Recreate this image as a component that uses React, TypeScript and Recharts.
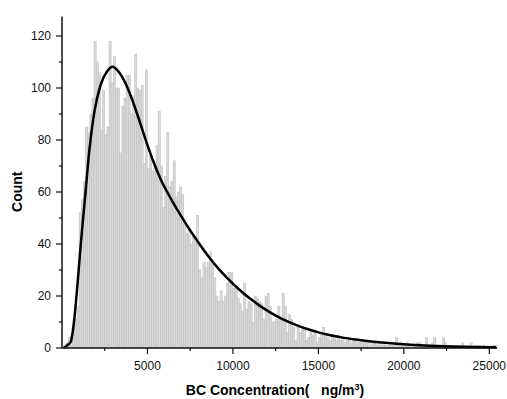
import { ComposedChart, Bar, Line, XAxis, YAxis, Label } from 'recharts'

const FONT = 'Arial, "Liberation Sans", sans-serif'

// histogram: 125 ng/m3 bins starting at 0
const binWidth = 125
const counts = [
  0, 0, 2, 4, 5, 8, 11, 16, 52, 57,
  64, 85, 83, 90, 96, 118, 110, 106, 84, 99,
  82, 85, 118, 102, 112, 100, 100, 75, 93, 96,
  105, 105, 90, 97, 113, 100, 99, 101, 71, 107,
  69, 74, 68, 70, 78, 91, 70, 54, 66, 83,
  62, 64, 72, 58, 60, 62, 59, 48, 44, 47,
  40, 43, 41, 51, 30, 27, 33, 31, 33, 37,
  32, 27, 20, 18, 22, 18, 20, 25, 29, 29,
  23, 23, 19, 17, 14, 25, 15, 18, 17, 10,
  20, 19, 18, 17, 11, 20, 21, 16, 10, 10,
  11, 16, 11, 21, 16, 6, 13, 11, 8, 3,
  8, 6, 7, 8, 3, 4, 6, 5, 7, 2,
  4, 5, 8, 5, 4, 3, 5, 4, 3, 5,
  3, 4, 2, 3, 4, 2, 3, 3, 2, 3,
  2, 3, 2, 2, 1, 2, 2, 1, 2, 1,
  2, 1, 1, 2, 1, 1, 4, 1, 2, 1,
  1, 2, 1, 0, 1, 1, 2, 2, 1, 1,
  4, 1, 1, 2, 4, 1, 1, 0, 4, 2,
  1, 1, 0, 1, 0, 1, 0, 2, 1, 0,
  1, 2, 0, 1, 1, 1, 0, 1, 0, 0,
  0, 0, 1, 1,
]

// fitted curve
const fitX = [
  100, 300, 520, 700, 900, 1100, 1350, 1600, 1900, 2250,
  2650, 2950, 3250, 3500, 3700, 4050, 4400, 4700, 5000, 5300,
  5800, 6400, 7000, 7400, 7950, 8550, 9100, 9700, 10300, 11000,
  11600, 12200, 12900, 13600, 14300, 14900, 15700, 16500, 17300, 18100,
  19600, 21200, 22800, 24000, 25400,
]
const fitY = [
  0, 1, 2.5, 10, 24, 40, 58, 76, 91, 101,
  106.5, 108.2, 106.8, 104.5, 102, 96.5, 90, 84, 78, 72.5,
  64.5, 57.1, 50.4, 46.2, 40.9, 35.4, 30.9, 26.7, 22.9, 19,
  16.1, 13.6, 11.1, 9.1, 7.4, 6.2, 4.9, 3.9, 3.15, 2.5,
  1.65, 1, 0.6, 0.42, 0.28,
]

const xTicks = [2500, 5000, 7500, 10000, 12500, 15000, 17500, 20000, 22500, 25000]
const yTicks = [0, 10, 20, 30, 40, 50, 60, 70, 80, 90, 100, 110, 120]

const bins = counts.map((c, i) => ({ x: (i + 0.5) * binWidth, count: c }))
const fit = fitX.map((x, i) => ({ x, fit: fitY[i] }))

const X_MAX = 25450
const PLOT_W = 435
const BIN_PX = (binWidth * PLOT_W) / X_MAX

// keep recharts' centre and height, but draw each bin over its full width
function BinRect({ x, y, width, height }: any) {
  if (!height) return null
  const cx = x + width / 2
  return (
    <rect
      x={cx - BIN_PX / 2}
      y={y}
      width={BIN_PX}
      height={height}
      fill="#d8d8d8"
      stroke="#bcbcbc"
      strokeWidth={0.5}
    />
  )
}

function XTick({ x, y, payload }: any) {
  const major = payload.value % 5000 === 0
  return (
    <g>
      <line x1={x} y1={y} x2={x} y2={y + (major ? 6 : 3)} stroke="#111" strokeWidth={1.2} />
      {major && (
        <text x={x} y={y + 22} textAnchor="middle" fontSize={12} fontFamily={FONT} fill="#111">
          {payload.value}
        </text>
      )}
    </g>
  )
}

function YTick({ x, y, payload }: any) {
  const major = payload.value % 20 === 0
  return (
    <g>
      <line x1={x - (major ? 6 : 3)} y1={y} x2={x} y2={y} stroke="#111" strokeWidth={1.2} />
      {major && (
        <text x={x - 11} y={y + 4.3} textAnchor="end" fontSize={12} fontFamily={FONT} fill="#111">
          {payload.value}
        </text>
      )}
    </g>
  )
}

function XTitle({ viewBox }: any) {
  return (
    <text
      x={viewBox.x + 213}
      y={viewBox.y + 47}
      textAnchor="middle"
      fontSize={14}
      fontWeight="bold"
      fontFamily={FONT}
      fill="#000"
      style={{ whiteSpace: 'pre' }}
    >
      {'BC Concentration(   ng/m'}
      <tspan fontSize={9} dy={-5}>3</tspan>
      <tspan dy={5}>)</tspan>
    </text>
  )
}

function YTitle({ viewBox }: any) {
  const cx = viewBox.x + 22
  const cy = viewBox.y + viewBox.height / 2 + 9.5
  return (
    <text
      x={cx}
      y={cy}
      transform={`rotate(-90 ${cx} ${cy})`}
      textAnchor="middle"
      fontSize={14}
      fontWeight="bold"
      fontFamily={FONT}
      fill="#000"
    >
      Count
    </text>
  )
}

export default function App() {
  return (
    <div style={{ position: 'absolute', left: 0, top: 0, width: 507, height: 399, background: '#fff' }}>
      <ComposedChart
        width={507}
        height={399}
        data={bins}
        margin={{ top: 16.5, right: 10, bottom: 0, left: 0 }}
        barCategoryGap={0}
        barGap={0}
      >
        <XAxis
          type="number"
          dataKey="x"
          domain={[0, X_MAX]}
          ticks={xTicks}
          tick={<XTick />}
          tickLine={false}
          tickSize={0}
          tickMargin={0}
          height={51}
          axisLine={{ stroke: '#111', strokeWidth: 1.5 }}
          interval={0}
        >
          <Label content={XTitle} />
        </XAxis>
        <YAxis
          type="number"
          domain={[0, 127.5]}
          ticks={yTicks}
          tick={<YTick />}
          tickLine={false}
          tickSize={0}
          tickMargin={0}
          width={62}
          axisLine={{ stroke: '#111', strokeWidth: 1.5 }}
          interval={0}
        >
          <Label content={YTitle} />
        </YAxis>
        <Bar dataKey="count" shape={BinRect} isAnimationActive={false} />
        <Line
          data={fit}
          dataKey="fit"
          type="monotone"
          stroke="#000"
          strokeWidth={2.5}
          dot={false}
          activeDot={false}
          isAnimationActive={false}
        />
      </ComposedChart>
    </div>
  )
}
